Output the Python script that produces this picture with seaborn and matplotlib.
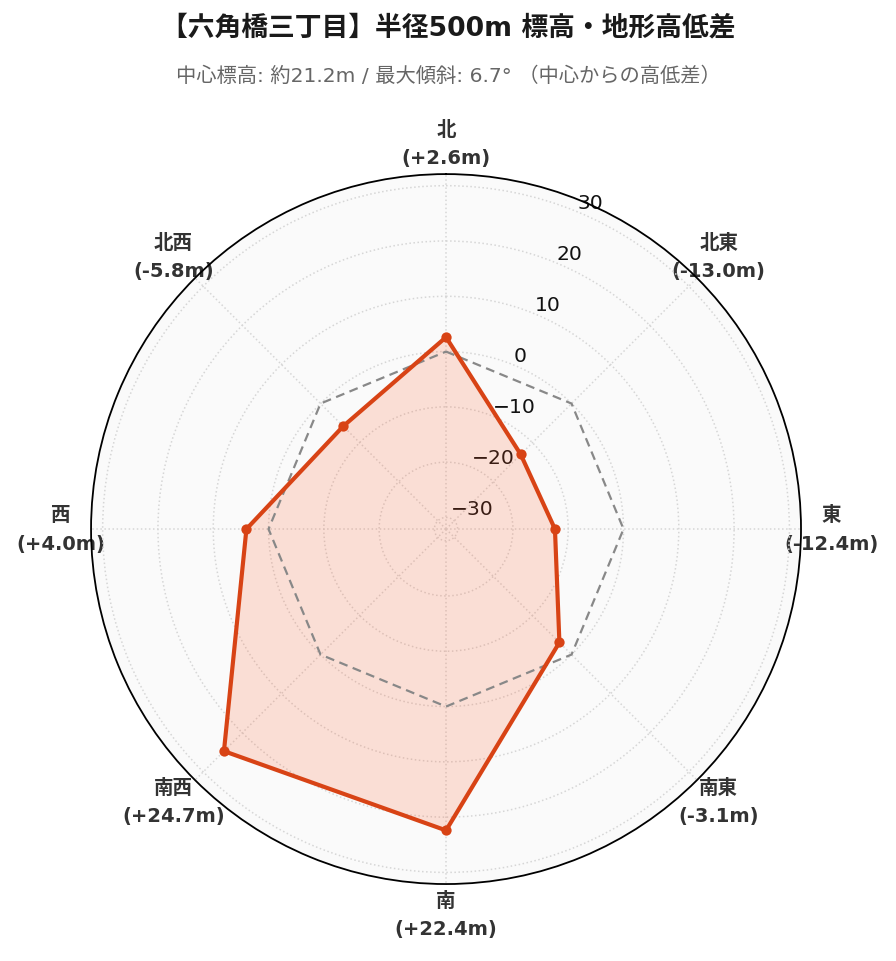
import numpy as np
import pandas as pd
import matplotlib
matplotlib.use("Agg")
import matplotlib.pyplot as plt
import seaborn as sns

directions = ["北", "北東", "東", "南東", "南", "南西", "西", "北西"]
diffs = [2.6, -13.0, -12.4, -3.1, 22.4, 24.7, 4.0, -5.8]
zero_ref = [0, 0, 0, 0, 0, 0, 0, 0]
r_ticks = [-30, -20, -10, 0, 10, 20, 30]
r_limit = 32.1
title = "【六角橋三丁目】半径500m 標高・地形高低差"
subtitle = "中心標高: 約21.2m / 最大傾斜: 6.7° （中心からの高低差）"

sns.set_theme(style="white")
plt.rcParams["font.family"] = ["DejaVu Sans", "Noto Sans CJK JP"]
plt.rcParams["axes.unicode_minus"] = True

angles = np.deg2rad(np.arange(len(directions)) * 360 / len(directions))
df = pd.DataFrame({"theta": np.append(angles, angles[0]),
                   "diff": np.append(diffs, diffs[0]),
                   "zero": np.append(zero_ref, zero_ref[0])})

fig = plt.figure(figsize=(8.96, 9.62), dpi=100)
ax = fig.add_axes([0.1016, 0.080, 0.7924, 0.738], projection="polar")
ax.set_theta_zero_location("N")
ax.set_theta_direction(-1)
ax.set_facecolor("#fafafa")

red = "#d84315"
ax.fill(df["theta"], df["diff"], color="#ff5722", alpha=0.17, zorder=2, linewidth=0)
sns.lineplot(data=df, x="theta", y="zero", sort=False, estimator=None, ax=ax,
             color="#888888", linestyle=(0, (4, 2.5)), linewidth=1.6, zorder=3)
sns.lineplot(data=df, x="theta", y="diff", sort=False, estimator=None, ax=ax,
             color=red, linewidth=3, zorder=4)
sns.scatterplot(x=angles, y=diffs, ax=ax, color=red, s=55, edgecolor=red,
                linewidth=0, zorder=5)

ax.set_ylim(-r_limit, r_limit)
ax.set_yticks(r_ticks)
ax.set_yticklabels([f"{t}".replace("-", "\u2212") for t in r_ticks],
                   fontsize=14.6, color="#111111")
ax.set_rlabel_position(22.5)
ax.set_xticks(angles)
labels = [f"{d}\n({v:+.1f}m)" for d, v in zip(directions, diffs)]
ax.set_xticklabels(labels, fontsize=14, fontweight="bold", color="#333333",
                   linespacing=1.62)
ax.tick_params(axis="x", pad=9)
ax.set_xlabel("")
ax.set_ylabel("")
ax.grid(True, color="#d6d6d6", linestyle=":", linewidth=1.1)
ax.spines["polar"].set_color("black")
ax.spines["polar"].set_linewidth(1.3)

fig.text(0.5, 1 - 28 / 962, title, ha="center", va="center", fontsize=19.3,
         fontweight="bold", color="#1a1a1a")
fig.text(0.5, 1 - 76 / 962, subtitle, ha="center", va="center", fontsize=14.6,
         color="#666666")

fig.savefig("out.png", dpi=100, facecolor="white")
